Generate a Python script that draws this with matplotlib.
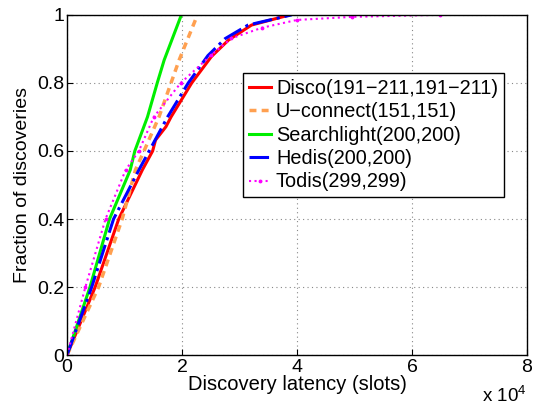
import matplotlib
matplotlib.use("Agg")
from matplotlib import pyplot as plt

plt.rcParams['font.family'] = ['Liberation Sans', 'DejaVu Sans']
plt.rcParams['mathtext.fontset'] = 'custom'
plt.rcParams['mathtext.rm'] = 'Liberation Sans'

# discovery latency in units of 1e4 slots, fraction of discoveries
disco_x = [0, 0.49, 0.90, 1.31, 1.49, 1.54, 1.72, 1.81, 2.17, 2.51, 2.81, 3.21, 3.88]
disco_y = [0, 0.20, 0.40, 0.544, 0.60, 0.632, 0.671, 0.70, 0.80, 0.877, 0.926, 0.97, 1.0]

uconn_x = [0, 0.55, 0.96, 1.19, 1.34, 1.60, 1.81, 1.95, 2.27]
uconn_y = [0, 0.20, 0.40, 0.544, 0.60, 0.70, 0.80, 0.867, 1.0]

search_x = [0, 0.40, 0.74, 1.10, 1.18, 1.40, 1.57, 1.69, 1.99]
search_y = [0, 0.20, 0.40, 0.544, 0.60, 0.70, 0.80, 0.867, 1.0]

hedis_x = [0, 0.43, 0.81, 1.25, 1.43, 1.75, 2.11, 2.45, 2.75, 3.15, 3.91]
hedis_y = [0, 0.20, 0.40, 0.544, 0.60, 0.70, 0.80, 0.88, 0.93, 0.97, 1.0]

todis_x = [0, 0.32, 0.67, 1.02, 1.25, 1.51, 1.98, 2.51, 2.86, 3.39, 4.00, 4.96, 6.49]
todis_y = [0, 0.20, 0.40, 0.544, 0.60, 0.70, 0.80, 0.882, 0.931, 0.962, 0.985, 0.994, 1.0]

labels = ["Disco(191\u2212211,191\u2212211)", "U\u2212connect(151,151)",
          "Searchlight(200,200)", "Hedis(200,200)", "Todis(299,299)"]

fs = 14

fig = plt.figure(figsize=(5.38, 4.12), dpi=100)
ax = fig.add_axes([0.1245, 0.138, 0.855, 0.826])

ax.plot(disco_x, disco_y, color='red', lw=2.2, ls='-', label=labels[0])
ax.plot(uconn_x, uconn_y, color='#ffa050', lw=2.5, ls=(0, (2, 1.5)), label=labels[1])
ax.plot(search_x, search_y, color='#00ee00', lw=2.2, ls='-', label=labels[2])
ax.plot(hedis_x, hedis_y, color='blue', lw=2.2, ls='-.', label=labels[3])
ax.plot(todis_x, todis_y, color='magenta', lw=1.5, ls=':', marker='.', ms=3.5, label=labels[4])

ax.set_xlim(0, 8)
ax.set_ylim(0, 1)
ax.set_xticks([0, 2, 4, 6, 8])
ax.set_xticklabels(['0', '2', '4', '6', '8'])
ax.set_yticks([0, 0.2, 0.4, 0.6, 0.8, 1])
ax.set_yticklabels(['0', '0.2', '0.4', '0.6', '0.8', '1'])
ax.tick_params(direction='in', labelsize=fs, length=4, pad=2)
ax.tick_params(axis='x', pad=3)
ax.grid(True, ls=(0, (1, 3)), color='#888888', lw=0.8)
for s in ax.spines.values():
    s.set_linewidth(1.0)

ax.set_xlabel("Discovery latency (slots)", fontsize=14.5, labelpad=-1)
ax.set_ylabel("Fraction of discoveries", fontsize=fs, labelpad=4)
fig.text(0.978, 0.015, r"x $\mathregular{10^4}$", fontsize=13.5, ha='right', va='bottom')

leg = ax.legend(loc='upper left', bbox_to_anchor=(0.383, 0.829), borderaxespad=0,
                fontsize=14.3, frameon=True, fancybox=False, edgecolor='black',
                handlelength=1.1, handletextpad=0.25, labelspacing=0.22,
                borderpad=0.3, framealpha=1)
leg.get_frame().set_linewidth(1.0)

fig.savefig("out.png", dpi=100)
